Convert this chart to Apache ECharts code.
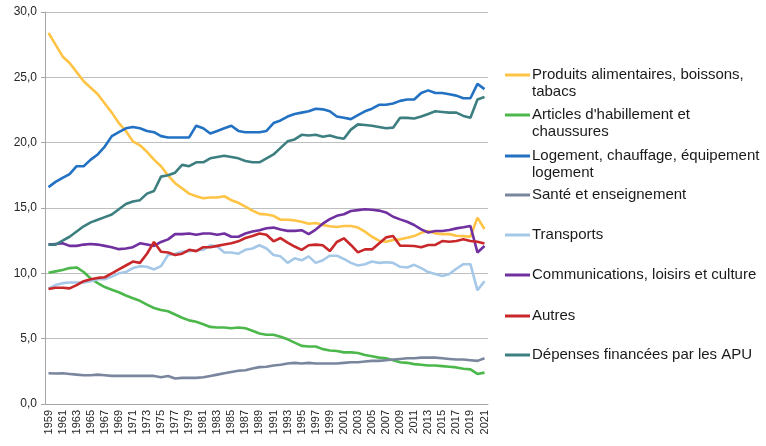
<!DOCTYPE html>
<html>
<head>
<meta charset="utf-8">
<script src="https://cdn.jsdelivr.net/npm/echarts@6/dist/echarts.min.js"></script>
<style>
  html, body { margin: 0; padding: 0; background: #fff; }
  #main { width: 766px; height: 446px; }
</style>
</head>
<body>
<div id="main"></div>
<script>
var years = []
for (var y = 1959; y <= 2021; y++) years.push(String(y))

var names = [
  'Produits alimentaires, boissons, tabacs',
  "Articles d'habillement et chaussures",
  'Logement, chauffage, équipement logement',
  'Santé et enseignement',
  'Transports',
  'Communications, loisirs et culture',
  'Autres',
  'Dépenses financées par les APU'
]
// how each legend label wraps
var labelLines = [
  ['Produits alimentaires, boissons,', 'tabacs'],
  ["Articles d'habillement et", 'chaussures'],
  ['Logement, chauffage, équipement', 'logement'],
  ['Santé et enseignement'],
  ['Transports'],
  ['Communications, loisirs et culture'],
  ['Autres'],
  ['Dépenses financées par les APU']
]
var colors = ['#FFC445', '#4CB84C', '#2271C3', '#7A869E', '#A5C8E8', '#7030A0', '#C8282A', '#3D7F80']

var produits = [28.4, 27.5, 26.6, 26.1, 25.4, 24.7, 24.2, 23.7, 23.0, 22.3, 21.5, 20.9, 20.1, 19.8, 19.3, 18.7,
  18.2, 17.5, 16.9, 16.5, 16.1, 15.9, 15.75, 15.8, 15.8, 15.9, 15.6, 15.4, 15.1, 14.8, 14.55,
  14.5, 14.4, 14.1, 14.1, 14.05, 13.95, 13.8, 13.85, 13.7, 13.6, 13.55, 13.62, 13.62, 13.5, 13.19, 12.8,
  12.5, 12.42, 12.55, 12.6, 12.73, 12.85, 13.1, 13.24, 13.06, 13.0, 13.0, 12.88, 12.85, 12.8, 14.26, 13.39]
var articles = [10.05, 10.15, 10.25, 10.4, 10.45, 10.1, 9.6, 9.25, 8.95, 8.75, 8.55, 8.3, 8.1, 7.9, 7.6, 7.35,
  7.2, 7.1, 6.85, 6.6, 6.4, 6.3, 6.1, 5.9, 5.85, 5.85, 5.8, 5.85, 5.8, 5.6, 5.4,
  5.3, 5.3, 5.15, 4.95, 4.7, 4.45, 4.4, 4.4, 4.2, 4.1, 4.05, 3.95, 3.95, 3.9, 3.75, 3.65,
  3.55, 3.5, 3.35, 3.2, 3.15, 3.05, 3.0, 2.95, 2.95, 2.9, 2.85, 2.8, 2.7, 2.65, 2.3, 2.4]
var logement = [16.6, 17.0, 17.3, 17.6, 18.2, 18.2, 18.7, 19.1, 19.7, 20.5, 20.8, 21.1, 21.2, 21.1, 20.9, 20.8,
  20.5, 20.4, 20.4, 20.4, 20.4, 21.3, 21.1, 20.7, 20.9, 21.1, 21.3, 20.9, 20.8, 20.8, 20.8,
  20.9, 21.5, 21.7, 22.0, 22.2, 22.3, 22.4, 22.6, 22.55, 22.4, 22.0, 21.9, 21.8, 22.1, 22.4, 22.6,
  22.9, 22.9, 23.0, 23.2, 23.3, 23.3, 23.8, 24.0, 23.8, 23.8, 23.7, 23.6, 23.4, 23.4, 24.5, 24.1]
var sante = [2.35, 2.33, 2.35, 2.3, 2.25, 2.2, 2.2, 2.25, 2.2, 2.15, 2.15, 2.15, 2.15, 2.15, 2.15, 2.15,
  2.05, 2.15, 1.95, 2.0, 2.0, 2.0, 2.05, 2.15, 2.25, 2.35, 2.45, 2.55, 2.58, 2.72, 2.82,
  2.85, 2.95, 3.0, 3.1, 3.15, 3.1, 3.15, 3.1, 3.1, 3.1, 3.1, 3.15, 3.2, 3.2, 3.25, 3.3,
  3.3, 3.35, 3.4, 3.45, 3.5, 3.5, 3.55, 3.55, 3.55, 3.5, 3.45, 3.4, 3.4, 3.35, 3.3, 3.5]
var transports = [8.85, 9.1, 9.25, 9.3, 9.3, 9.3, 9.4, 9.55, 9.55, 9.75, 10.0, 10.1, 10.4, 10.55, 10.5, 10.3,
  10.55, 11.4, 11.5, 11.65, 11.7, 11.75, 11.8, 12.15, 12.05, 11.6, 11.6, 11.5, 11.8, 11.9, 12.15,
  11.9, 11.4, 11.3, 10.8, 11.15, 11.0, 11.3, 10.8, 11.0, 11.35, 11.35, 11.1, 10.8, 10.6, 10.7, 10.9,
  10.8, 10.85, 10.8, 10.5, 10.45, 10.65, 10.4, 10.1, 9.95, 9.8, 9.95, 10.35, 10.7, 10.7, 8.7, 9.4]
var communications = [12.2, 12.25, 12.3, 12.1, 12.1, 12.2, 12.25, 12.2, 12.1, 12.0, 11.85, 11.9, 12.0, 12.3, 12.2, 12.1,
  12.4, 12.6, 13.0, 13.0, 13.05, 12.95, 13.05, 13.05, 12.95, 13.05, 12.8, 12.8, 13.05, 13.2, 13.3,
  13.45, 13.5, 13.35, 13.25, 13.25, 13.3, 13.0, 13.35, 13.8, 14.15, 14.4, 14.52, 14.77, 14.84, 14.9, 14.87,
  14.8, 14.66, 14.33, 14.13, 13.95, 13.7, 13.36, 13.13, 13.24, 13.24, 13.31, 13.44, 13.52, 13.62, 11.6, 12.09]
var autres = [8.8, 8.9, 8.9, 8.85, 9.1, 9.4, 9.55, 9.65, 9.7, 10.0, 10.3, 10.6, 10.9, 10.8, 11.5, 12.4,
  11.65, 11.6, 11.4, 11.5, 11.8, 11.7, 12.0, 12.0, 12.1, 12.2, 12.3, 12.45, 12.7, 12.85, 13.05,
  12.95, 12.45, 12.7, 12.35, 12.05, 11.8, 12.15, 12.2, 12.15, 11.7, 12.4, 12.68, 12.17, 11.6, 11.83, 11.83,
  12.29, 12.75, 12.85, 12.11, 12.11, 12.09, 11.99, 12.17, 12.17, 12.47, 12.42, 12.47, 12.6, 12.47, 12.42, 12.29]
var depenses = [12.2, 12.2, 12.5, 12.8, 13.2, 13.6, 13.9, 14.1, 14.3, 14.5, 14.9, 15.3, 15.5, 15.6, 16.1, 16.3,
  17.4, 17.5, 17.7, 18.3, 18.2, 18.5, 18.5, 18.8, 18.9, 19.0, 18.9, 18.8, 18.6, 18.5, 18.5,
  18.8, 19.1, 19.6, 20.1, 20.25, 20.6, 20.55, 20.6, 20.45, 20.55, 20.4, 20.3, 21.0, 21.4, 21.35, 21.3,
  21.2, 21.1, 21.15, 21.9, 21.9, 21.85, 22.0, 22.2, 22.4, 22.35, 22.3, 22.3, 22.05, 21.9, 23.3, 23.5]

var values = [produits, articles, logement, sante, transports, communications, autres, depenses]

// vertical centre of each legend entry (first line)
var legendY = [75, 115, 156, 195, 235, 275, 316, 355]
var lineH = 17

var chartDom = document.getElementById('main')
var myChart = echarts.init(chartDom)
var option

var legends = names.map(function (name, i) {
  var lines = labelLines[i]
  // an empty first line keeps the icon level with the first text line
  var text = lines.length > 1 ? '\n' + lines.join('\n') : lines[0]
  var h = lines.length > 1 ? lineH * 3 : lineH
  return {
    data: [name],
    left: 505,
    top: legendY[i] - h / 2,
    padding: 0,
    icon: 'rect',
    itemWidth: 25,
    itemHeight: 3,
    selectedMode: false,
    formatter: function () { return text },
    textStyle: {
      fontFamily: 'Liberation Sans, Arial, sans-serif',
      fontSize: 15,
      lineHeight: lineH,
      color: '#1a1a1a',
      padding: [0, 0, 0, -3]
    }
  }
})

option = {
  animation: false,
  color: colors,
  grid: {
    left: 45,
    right: 278,
    top: 12,
    bottom: 42
  },
  legend: legends,
  xAxis: {
    type: 'category',
    data: years,
    boundaryGap: true,
    axisLine: { lineStyle: { color: '#a6a6a6' } },
    axisTick: { interval: 0, length: 4, lineStyle: { color: '#a6a6a6' } },
    axisLabel: {
      interval: 1,
      rotate: 90,
      margin: 6,
      fontFamily: 'Liberation Sans, Arial, sans-serif',
      fontSize: 11,
      color: '#262626'
    }
  },
  yAxis: {
    type: 'value',
    min: 0,
    max: 30,
    interval: 5,
    axisLine: { show: true, lineStyle: { color: '#a6a6a6' } },
    axisTick: { show: true, length: 4, lineStyle: { color: '#a6a6a6' } },
    splitLine: { lineStyle: { color: '#bfbfbf' } },
    axisLabel: {
      margin: 8,
      fontFamily: 'Liberation Sans, Arial, sans-serif',
      fontSize: 12,
      color: '#262626',
      formatter: function (v) { return v.toFixed(1).replace('.', ',') }
    }
  },
  series: names.map(function (name, i) {
    return {
      name: name,
      type: 'line',
      data: values[i],
      showSymbol: false,
      // the red line sits above the others in the original
      z: name === 'Autres' ? 3 : 2,
      lineStyle: { width: 2.6, color: colors[i] },
      itemStyle: { color: colors[i] }
    }
  })
}

option && myChart.setOption(option)
</script>
</body>
</html>
